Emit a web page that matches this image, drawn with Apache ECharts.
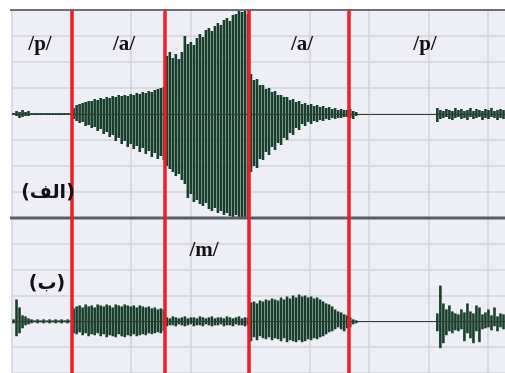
<!DOCTYPE html>
<html>
<head>
<meta charset="utf-8">
<script src="https://cdn.jsdelivr.net/npm/echarts@6/dist/echarts.min.js"></script>
<style>
  html, body { margin: 0; padding: 0; background: #fff; }
  #chart { width: 505px; height: 373px; }
</style>
</head>
<body>
<div id="chart"></div>
<script>
// Waveform envelope, one value per frame (upper and lower swing from zero)
// Panel (الف): /p/ /a/ /p/ /a/ /p/
const topHi = [
  1, 3, 2, 4, 2, 3, 1, 1, 1, 1, 1, 1, 1, 1, 1, 1, 1, 1, 1, 1,
  6, 9, 10, 11, 12, 13, 13, 15, 14, 16, 15, 17, 16, 18, 17, 19, 18, 19, 18, 20, 19, 21, 20, 22, 21, 23, 22, 24, 25, 26, 27,
  58, 62, 56, 60, 55, 62, 78, 70, 72, 69, 76, 80, 77, 84, 86, 83, 88, 91, 89, 94, 96, 93, 99, 100, 103, 102, 103, 100,
  40, 34, 35, 29, 29, 25, 26, 22, 23, 19, 19, 17, 17, 14, 15, 12, 13, 10, 11, 9, 10, 8, 9, 7, 8, 6, 7, 5, 6, 4, 5, 4, 4,
  5, 3, 2,
  0, 0, 0, 0, 0, 0, 0, 0, 0, 0, 0, 0, 0,
  0, 0, 0, 0, 0, 0, 0, 0, 0, 0, 0, 0, 0,
  6, 4, 3, 5, 4, 3, 6, 4, 5, 3, 4, 6, 3, 5, 4, 3, 5, 4, 6, 3, 4, 5, 4
];
const topLo = [
  1, 2, 4, 3, 2, 2, 1, 1, 1, 1, 1, 1, 1, 1, 1, 1, 1, 1, 1, 1,
  5, 7, 9, 8, 12, 11, 14, 13, 17, 15, 20, 18, 23, 21, 27, 24, 30, 27, 33, 30, 35, 32, 38, 34, 40, 37, 43, 39, 45, 42, 46,
  52, 55, 58, 62, 60, 66, 70, 84, 80, 88, 86, 90, 92, 89, 95, 97, 94, 99, 97, 101, 99, 102, 103, 101, 104, 104, 103, 104,
  58, 52, 54, 45, 46, 38, 41, 33, 36, 29, 31, 24, 26, 19, 21, 14, 16, 10, 12, 8, 10, 7, 8, 6, 7, 5, 6, 4, 5, 4, 4, 3, 3,
  4, 5, 2,
  0, 0, 0, 0, 0, 0, 0, 0, 0, 0, 0, 0, 0,
  0, 0, 0, 0, 0, 0, 0, 0, 0, 0, 0, 0, 0,
  8, 5, 4, 3, 5, 6, 4, 3, 5, 4, 6, 3, 5, 4, 3, 6, 4, 5, 3, 4, 6, 4, 5
];

// Panel (ب): /p/ /a/ /m/ /a/ /p/
const bottomHi = [
  2, 22, 14, 6, 5, 3, 2, 1, 2, 1, 2, 1, 2, 1, 2, 1, 2, 1, 2, 1,
  13, 15, 16, 14, 17, 15, 16, 14, 17, 16, 15, 17, 16, 14, 17, 16, 15, 17, 16, 15, 16, 14, 16, 15, 14, 15, 13, 14, 12, 13, 12,
  4, 3, 5, 4, 3, 4, 5, 3, 4, 4, 3, 5, 4, 3, 4, 5, 3, 4, 4, 3, 5, 4, 3, 4, 5, 3, 4, 4,
  19, 20, 18, 21, 20, 22, 21, 23, 22, 21, 24, 22, 25, 23, 26, 24, 27, 25, 26, 24, 25, 23, 24, 22, 20, 18, 17, 15, 12, 10, 9, 7, 6,
  4, 2, 1,
  0, 0, 0, 0, 0, 0, 0, 0, 0, 0, 0, 0, 0,
  0, 0, 0, 0, 0, 0, 0, 0, 0, 0, 0, 0, 0,
  8, 36, 18, 12, 16, 10, 8, 7, 12, 9, 18, 10, 8, 16, 14, 7, 9, 12, 6, 14, 5, 8, 7
];
const bottomLo = [
  2, 15, 12, 7, 4, 3, 2, 1, 2, 1, 2, 1, 2, 1, 2, 1, 2, 1, 2, 1,
  12, 13, 11, 14, 12, 15, 13, 14, 12, 15, 13, 16, 14, 15, 16, 13, 15, 16, 14, 15, 13, 15, 14, 13, 14, 12, 13, 12, 11, 12, 10,
  5, 4, 4, 5, 3, 4, 5, 4, 3, 5, 4, 4, 5, 3, 4, 5, 4, 4, 3, 5, 4, 4, 5, 3, 4, 4, 5, 4,
  20, 16, 19, 15, 17, 18, 16, 19, 17, 18, 20, 17, 21, 19, 20, 21, 19, 21, 20, 18, 19, 17, 18, 16, 15, 13, 11, 10, 8, 6, 8, 10, 7,
  6, 3, 2,
  0, 0, 0, 0, 0, 0, 0, 0, 0, 0, 0, 0, 0,
  0, 0, 0, 0, 0, 0, 0, 0, 0, 0, 0, 0, 0,
  10, 27, 22, 14, 10, 12, 9, 10, 8, 20, 12, 17, 22, 10, 21, 8, 7, 6, 9, 5, 10, 6, 8
];

// Segment boundaries (frames)
const boundaries = [20, 50.9, 78.8, 112.1];
const topLabels = ["/p/", "/a/", "/a/", "/p/"];
const bottomLabels = ["/m/"];
const panelLabels = ["(الف)", "(ب)"];

const chart = echarts.init(document.getElementById("chart"));

const gridLine = { show: true, showMaxLine: false, lineStyle: { color: "#d3d5db", width: 1.5 } };
const wave = "#173f2b";

const xAxisCfg = (gridIndex) => ({
  type: "value",
  gridIndex,
  min: 0,
  max: 164,
  interval: 19.8,
  axisLine: { show: false },
  axisTick: { show: false },
  axisLabel: { show: false },
  splitLine: gridLine,
});

const yAxisCfg = (gridIndex, min, max) => ({
  type: "value",
  gridIndex,
  min,
  max,
  interval: 26,
  axisLine: { show: false },
  axisTick: { show: false },
  axisLabel: { show: false },
  splitLine: gridLine,
});

const markLines = {
  silent: true,
  symbol: "none",
  label: { show: false },
  data: [
    { yAxis: 0, lineStyle: { color: "#2d3d33", width: 1, type: "solid" } },
    ...boundaries.map((b) => ({
      xAxis: b,
      lineStyle: { color: "#ec1f27", width: 3.5, type: "solid" },
    })),
  ],
};

const barSeries = (idx, values, sign, withLines) => ({
  type: "bar",
  xAxisIndex: idx,
  yAxisIndex: idx,
  stack: "wave" + idx,
  barWidth: 2.6,
  itemStyle: { color: wave },
  data: values.map((v, i) => [i + 0.5, sign * v]),
  markLine: withLines ? markLines : undefined,
});

const labelFont = 'bold 21px "Liberation Serif", "Times New Roman", serif';
const arabicFont = 'bold 19px "DejaVu Sans", sans-serif';
const topLabelX = [40, 124, 302, 425];

const option = {
  animation: false,
  backgroundColor: "#ffffff",
  grid: [
    { left: 12, right: 0, top: 10, height: 208, show: true, backgroundColor: "#eeeff6", borderWidth: 0 },
    { left: 12, right: 0, top: 218, height: 156, show: true, backgroundColor: "#eeeff6", borderWidth: 0 },
  ],
  xAxis: [xAxisCfg(0), xAxisCfg(1)],
  yAxis: [yAxisCfg(0, -104, 104), yAxisCfg(1, -52, 104)],
  series: [
    barSeries(0, topHi, 1, true),
    barSeries(0, topLo, -1, false),
    barSeries(1, bottomHi, 1, true),
    barSeries(1, bottomLo, -1, false),
  ],
  graphic: [
    { type: "line", shape: { x1: 10, y1: 10, x2: 505, y2: 10 }, style: { stroke: "#3f434f", lineWidth: 1.5 }, z: 5 },
    { type: "line", shape: { x1: 10, y1: 218, x2: 505, y2: 218 }, style: { stroke: "#5a5e69", lineWidth: 3 }, z: 5 },
    ...topLabels.map((t, i) => ({
      type: "text",
      x: topLabelX[i],
      y: 45,
      style: { text: t, font: labelFont, fill: "#111", align: "center", verticalAlign: "middle" },
      z: 10,
    })),
    {
      type: "text",
      x: 204,
      y: 251,
      style: { text: bottomLabels[0], font: labelFont, fill: "#111", align: "center", verticalAlign: "middle" },
      z: 10,
    },
    {
      type: "text",
      x: 48,
      y: 193,
      style: { text: panelLabels[0], font: arabicFont, fill: "#111", align: "center", verticalAlign: "middle" },
      z: 10,
    },
    {
      type: "text",
      x: 47,
      y: 284,
      style: { text: panelLabels[1], font: arabicFont, fill: "#111", align: "center", verticalAlign: "middle" },
      z: 10,
    },
  ],
};

chart.setOption(option);
</script>
</body>
</html>
